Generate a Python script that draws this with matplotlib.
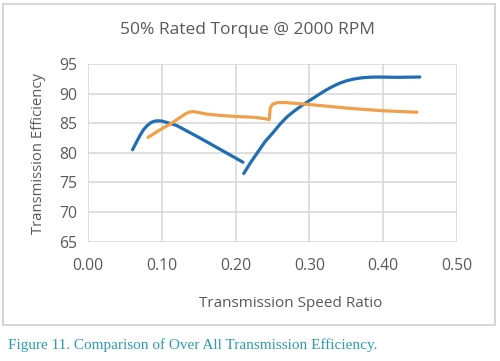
import numpy as np
import matplotlib.pyplot as plt
from matplotlib.patches import Rectangle

# blue series (two pieces, gap between them)
blue_x = [0.060, 0.065, 0.070, 0.075, 0.080, 0.085, 0.090, 0.095, 0.100, 0.110, 0.120,
          0.150, 0.180, 0.210, np.nan,
          0.211, 0.220, 0.230, 0.240, 0.250, 0.260, 0.270, 0.280, 0.290, 0.300,
          0.310, 0.320, 0.330, 0.340, 0.350, 0.360, 0.370, 0.380, 0.390, 0.420, 0.450]
blue_y = [80.5, 81.7, 82.9, 83.9, 84.6, 85.1, 85.35, 85.4, 85.35, 85.0, 84.6,
          82.6, 80.5, 78.4, np.nan,
          76.5, 78.3, 80.1, 81.9, 83.3, 84.8, 86.1, 87.1, 88.0, 88.8,
          89.6, 90.4, 91.1, 91.7, 92.15, 92.45, 92.65, 92.75, 92.8, 92.75, 92.8]

orange_x = [0.081, 0.097, 0.113, 0.125, 0.132, 0.138, 0.143, 0.150, 0.160, 0.180,
            0.205, 0.225, 0.240, 0.2455, 0.247, 0.250, 0.256, 0.265, 0.296, 0.355,
            0.400, 0.446]
orange_y = [82.6, 83.85, 85.0, 86.0, 86.6, 86.9, 86.95, 86.8, 86.55, 86.3,
            86.1, 86.0, 85.75, 85.6, 87.6, 88.2, 88.45, 88.5, 88.2, 87.5,
            87.1, 86.85]

xticks = [0.0, 0.1, 0.2, 0.3, 0.4, 0.5]
yticks = [65, 70, 75, 80, 85, 90, 95]

grey = '#595959'
plt.rcParams['font.family'] = ['Open Sans', 'DejaVu Sans']

fig = plt.figure(figsize=(5, 3.61), dpi=100)
fig.patches.append(Rectangle((0.006, 0.1), 0.984, 0.89, transform=fig.transFigure,
                             fill=False, edgecolor='#d0d0d0', lw=1.2))

ax = fig.add_axes([0.1766, 0.331, 0.7368, 0.4917])
ax.plot(blue_x, blue_y, color='#1F6DB3', lw=2.3, solid_capstyle='round')
ax.plot(orange_x, orange_y, color='#F0A04B', lw=2.3, solid_capstyle='round')

ax.set_xlim(0, 0.5)
ax.set_ylim(65, 95)
ax.set_xticks(xticks)
ax.set_xticklabels(['%.2f' % v for v in xticks])
ax.set_yticks(yticks)
ax.grid(True, color='#d9d9d9', lw=1.2)
ax.set_axisbelow(True)
for s in ax.spines.values():
    s.set_visible(False)
ax.tick_params(length=0, labelsize=11.3, colors=grey, pad=8)
ax.tick_params(axis='x', pad=12)

fig.text(0.496, 0.917, '50% Rated Torque @ 2000 RPM', ha='center', va='center',
         fontsize=12.5, color=grey)
fig.text(0.582, 0.16, 'Transmission Speed Ratio', ha='center', va='center',
         fontsize=11, color=grey)
fig.text(0.078, 0.575, 'Transmission Efficiency', ha='center', va='center',
         rotation=90, fontsize=10.7, color=grey)
fig.text(0.016, 0.025, 'Figure 11. Comparison of Over All Transmission Efficiency.',
         ha='left', va='bottom', fontsize=11, color='#2A9BB5',
         family=['Liberation Serif'])

fig.savefig('out.png', dpi=100)
